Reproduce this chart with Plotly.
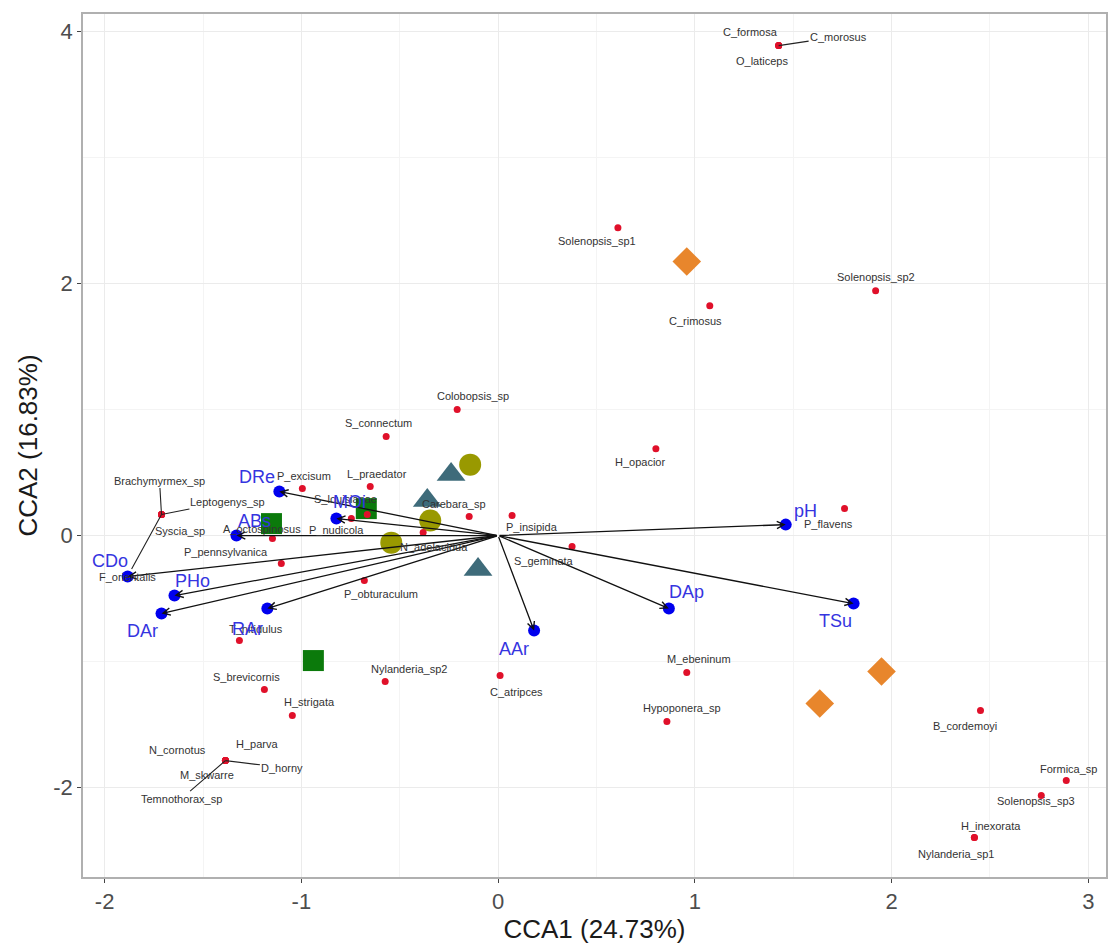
import plotly.graph_objects as go

# ---------------- data ----------------
species = ["C_formosa", "C_morosus", "O_laticeps", "Solenopsis_sp1", "Solenopsis_sp2",
           "C_rimosus", "Colobopsis_sp", "S_connectum", "H_opacior", "L_praedator",
           "P_excisum", "S_louisianae", "P_nudicola", "Carebara_sp", "P_insipida",
           "N_adelacidua", "S_geminata", "P_flavens", "P_pennsylvanica", "P_obturaculum",
           "A_octospinosus", "Brachymyrmex_sp", "Leptogenys_sp", "Syscia_sp", "F_orientalis",
           "T_nitidulus", "S_brevicornis", "H_strigata", "Nylanderia_sp2", "C_atripces",
           "M_ebeninum", "Hypoponera_sp", "B_cordemoyi", "Formica_sp", "Solenopsis_sp3",
           "H_inexorata", "Nylanderia_sp1", "N_cornotus", "H_parva", "D_horny",
           "M_skwarre", "Temnothorax_sp"]
sp_cca1 = [1.426, 1.426, 1.426, 0.609, 1.919,
           1.076, -0.208, -0.569, 0.802, -0.650,
           -0.995, -0.665, -0.746, -0.147, 0.071,
           -0.381, 0.376, 1.761, -1.102, -0.680,
           -1.147, -1.711, -1.711, -1.711, -1.711,
           -1.315, -1.188, -1.046, -0.574, 0.010,
           0.959, 0.858, 2.452, 2.888, 2.761,
           2.421, 2.421, -1.386, -1.386, -1.386,
           -1.386, -1.386]
sp_cca2 = [3.889, 3.889, 3.889, 2.444, 1.944,
           1.825, 1.000, 0.786, 0.690, 0.389,
           0.373, 0.167, 0.135, 0.151, 0.159,
           0.024, -0.087, 0.214, -0.222, -0.357,
           -0.024, 0.167, 0.167, 0.167, 0.167,
           -0.833, -1.222, -1.429, -1.159, -1.111,
           -1.087, -1.476, -1.389, -1.944, -2.063,
           -2.397, -2.397, -1.786, -1.786, -1.786,
           -1.786, -1.786]

env_vars = ["DRe", "ABs", "MOi", "CDo", "PHo", "DAr", "RAr", "AAr", "DAp", "pH", "TSu"]
env_cca1 = [-1.112, -1.330, -0.822, -1.883, -1.645, -1.711, -1.173, 0.183, 0.868, 1.462, 1.807]
env_cca2 = [0.349, 0.000, 0.135, -0.325, -0.476, -0.619, -0.579, -0.754, -0.579, 0.087, -0.540]

site_circle_cca1 = [-0.142, -0.345, -0.543]
site_circle_cca2 = [0.563, 0.119, -0.056]
site_triangle_cca1 = [-0.239, -0.360, -0.102]
site_triangle_cca2 = [0.484, 0.278, -0.270]
site_square_cca1 = [-1.152, -0.670, -0.939]
site_square_cca2 = [0.095, 0.214, -0.992]
site_diamond_cca1 = [1.949, 1.635, 0.959]
site_diamond_cca2 = [-1.079, -1.333, 2.175]

x_ticks = [-2, -1, 0, 1, 2, 3]
y_ticks = [-2, 0, 2, 4]

# ---------------- label layout (pixel offsets, ggrepel-like) ----------------
sp_label_offset = {
    "C_formosa": (-28, -14, False), "C_morosus": (60, -9, True), "O_laticeps": (-17, 15, False),
    "Solenopsis_sp1": (-21, 13, False), "Solenopsis_sp2": (0, -14, False),
    "C_rimosus": (-14, 15, False), "Colobopsis_sp": (16, -14, False),
    "S_connectum": (-8, -14, False), "H_opacior": (-16, 13, False),
    "L_praedator": (7, -13, False), "P_excisum": (2, -13, False),
    "S_louisianae": (-22, -16, False), "P_nudicola": (-15, 11, False),
    "Carebara_sp": (-15, -13, False), "P_insipida": (20, 11, False),
    "N_adelacidua": (11, 14, False), "S_geminata": (-28, 14, False),
    "P_flavens": (-16, 15, False), "P_pennsylvanica": (-55, -12, False),
    "P_obturaculum": (17, 13, False), "A_octospinosus": (-10, -10, False),
    "Brachymyrmex_sp": (-2, -34, True), "Leptogenys_sp": (66, -13, True),
    "Syscia_sp": (18, 16, False), "F_orientalis": (-34, 62, True),
    "T_nitidulus": (17, -12, False), "S_brevicornis": (-18, -13, False),
    "H_strigata": (17, -14, False), "Nylanderia_sp2": (24, -13, False),
    "C_atripces": (16, 16, False), "M_ebeninum": (12, -14, False),
    "Hypoponera_sp": (15, -14, False), "B_cordemoyi": (-15, 15, False),
    "Formica_sp": (2, -12, False), "Solenopsis_sp3": (-5, 6, False),
    "H_inexorata": (17, -12, False), "Nylanderia_sp1": (-18, 16, False),
    "N_cornotus": (-48, -11, False), "H_parva": (32, -17, False),
    "D_horny": (57, 7, True), "M_skwarre": (-18, 14, False),
    "Temnothorax_sp": (-44, 38, True),
}
env_label_offset = {
    "DRe": (-22, -15), "ABs": (18, -15), "MOi": (13, -17), "CDo": (-18, -16),
    "PHo": (18, -15), "DAr": (-19, 17), "RAr": (-20, 20), "AAr": (-20, 18),
    "DAp": (18, -17), "pH": (20, -14), "TSu": (-18, 17),
}

FONT = "Liberation Sans, Arial, sans-serif"
AXFONT = "Liberation Sans, Arial, sans-serif"

fig = go.Figure()

# sites
fig.add_trace(go.Scatter(x=site_circle_cca1, y=site_circle_cca2, mode="markers",
                         marker=dict(symbol="circle", size=22, color="#999900"),
                         showlegend=False, hoverinfo="skip"))
fig.add_trace(go.Scatter(x=site_triangle_cca1, y=site_triangle_cca2, mode="markers",
                         marker=dict(symbol="triangle-up", size=25, color="#3e6b7a"),
                         showlegend=False, hoverinfo="skip"))
fig.add_trace(go.Scatter(x=site_square_cca1, y=site_square_cca2, mode="markers",
                         marker=dict(symbol="square", size=21, color="#0b7a0b"),
                         showlegend=False, hoverinfo="skip"))
fig.add_trace(go.Scatter(x=site_diamond_cca1, y=site_diamond_cca2, mode="markers",
                         marker=dict(symbol="diamond", size=22, color="#e8862c"),
                         showlegend=False, hoverinfo="skip"))

# species points
fig.add_trace(go.Scatter(x=sp_cca1, y=sp_cca2, mode="markers",
                         marker=dict(size=7, color="#e0102a"),
                         showlegend=False, hoverinfo="skip"))

# environmental points
fig.add_trace(go.Scatter(x=env_cca1, y=env_cca2, mode="markers",
                         marker=dict(size=12, color="#0000ee"),
                         showlegend=False, hoverinfo="skip"))

annotations = []
# arrows from origin
for ex, ey in zip(env_cca1, env_cca2):
    annotations.append(dict(x=ex, y=ey, ax=0, ay=0, xref="x", yref="y", axref="x", ayref="y",
                            text="", showarrow=True, arrowhead=5, arrowsize=1.1,
                            arrowwidth=1.3, arrowcolor="#111111"))

# species labels
for name, sx, sy in zip(species, sp_cca1, sp_cca2):
    dx, dy, seg = sp_label_offset[name]
    if seg:
        annotations.append(dict(x=sx, y=sy, xref="x", yref="y", text=name, showarrow=True,
                                arrowhead=0, ax=dx, ay=dy, arrowwidth=1.1, arrowcolor="#222222",
                                font=dict(family=FONT, size=11, color="#333333"), standoff=0))
    else:
        annotations.append(dict(x=sx, y=sy, xref="x", yref="y", text=name, showarrow=False,
                                xshift=dx, yshift=-dy,
                                font=dict(family=FONT, size=11, color="#333333")))

# env labels
for name, ex, ey in zip(env_vars, env_cca1, env_cca2):
    dx, dy = env_label_offset[name]
    annotations.append(dict(x=ex, y=ey, xref="x", yref="y", text=name, showarrow=False,
                            xshift=dx, yshift=-dy,
                            font=dict(family=FONT, size=18, color="#3535e0")))

fig.update_layout(
    width=1110, height=947,
    margin=dict(l=83, r=2, t=14, b=70),
    paper_bgcolor="white", plot_bgcolor="white",
    annotations=annotations,
    xaxis=dict(range=[-2.11, 3.09], tickvals=x_ticks, ticktext=[str(v) for v in x_ticks],
               showgrid=True, gridcolor="#ebebeb", gridwidth=1, zeroline=False,
               minor=dict(dtick=0.5, tick0=0, showgrid=True, gridcolor="#f4f4f4", gridwidth=0.6),
               showline=True, linecolor="#b0b0b0", linewidth=1.5, mirror=True,
               ticks="outside", ticklen=4, tickcolor="#444444",
               tickfont=dict(family=AXFONT, size=22, color="#4d4d4d"),
               title=dict(text="CCA1 (24.73%)", font=dict(family=AXFONT, size=26, color="#1a1a1a"),
                          standoff=4)),
    yaxis=dict(range=[-2.71, 4.14], tickvals=y_ticks, ticktext=[str(v) for v in y_ticks],
               showgrid=True, gridcolor="#ebebeb", gridwidth=1, zeroline=False,
               minor=dict(dtick=1, tick0=1, showgrid=True, gridcolor="#f4f4f4", gridwidth=0.6),
               showline=True, linecolor="#b0b0b0", linewidth=1.5, mirror=True,
               ticks="outside", ticklen=4, tickcolor="#444444",
               tickfont=dict(family=AXFONT, size=22, color="#4d4d4d"),
               title=dict(text="CCA2 (16.83%)", font=dict(family=AXFONT, size=26, color="#1a1a1a"),
                          standoff=8)),
)

fig.write_html("out.html")
